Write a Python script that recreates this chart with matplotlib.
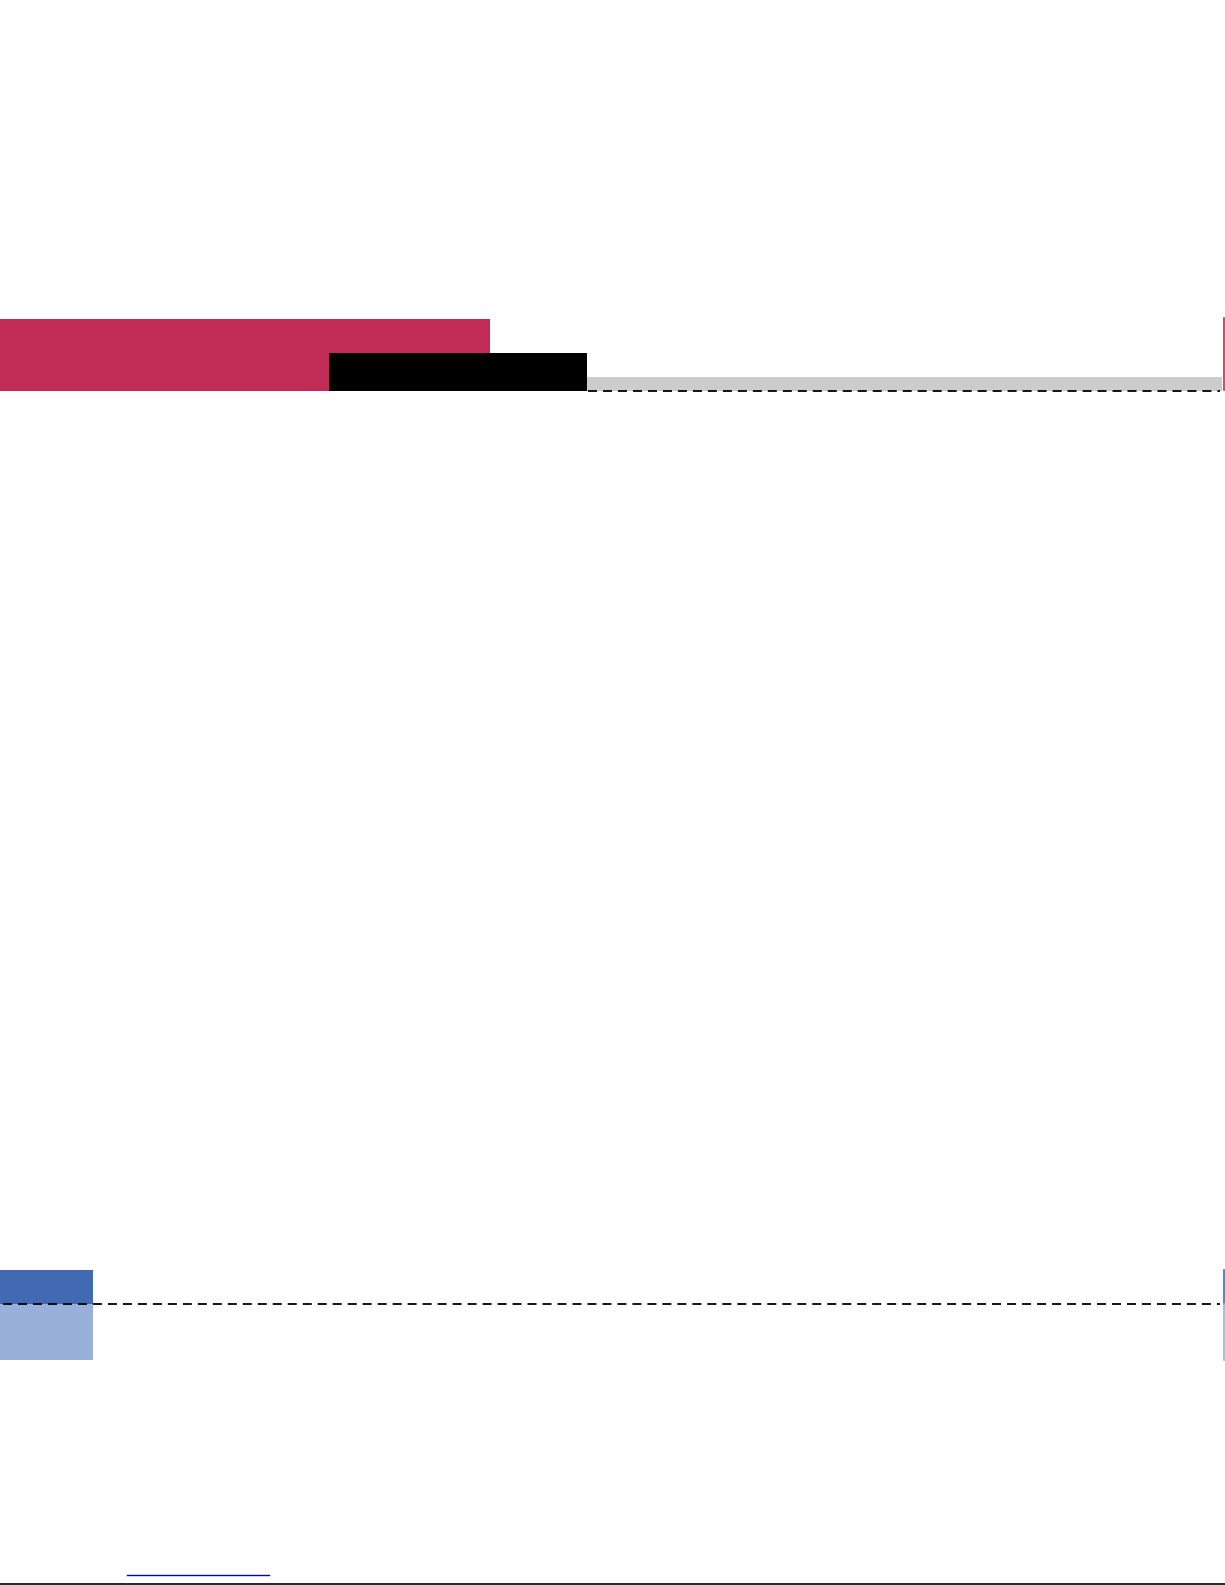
import matplotlib
matplotlib.use("Agg")
import matplotlib.pyplot as plt

W, H = 1225, 1585

# header blocks: (left, right, top, bottom, colour)
header_left   = [0,   329, 587]
header_right  = [490, 587, 1222]
header_top    = [319, 353, 377]
header_bottom = [391, 391, 391]
header_colors = ["#C12C57", "#000000", "#CCCCCC"]

# footer tab blocks
tab_left   = [0, 0]
tab_right  = [93, 93]
tab_top    = [1270, 1304]
tab_bottom = [1304, 1360]
tab_colors = ["#426AB2", "#99B1D9"]

fig = plt.figure(figsize=(W / 100, H / 100), dpi=100)
ax = fig.add_axes([0, 0, 1, 1])
ax.set_xlim(0, W)
ax.set_ylim(H, 0)
ax.axis("off")

ax.barh([(t + b) / 2 for t, b in zip(header_top, header_bottom)],
        [r - l for l, r in zip(header_left, header_right)],
        height=[b - t for t, b in zip(header_top, header_bottom)],
        left=header_left, color=header_colors, linewidth=0)

ax.barh([(t + b) / 2 for t, b in zip(tab_top, tab_bottom)],
        [r - l for l, r in zip(tab_left, tab_right)],
        height=[b - t for t, b in zip(tab_top, tab_bottom)],
        left=tab_left, color=tab_colors, linewidth=0)

# dashed rules
ax.plot([588, 1220], [391, 391], color="black", lw=1.3, dashes=(5, 3.3))
ax.plot([3, 1220], [1304, 1304], color="black", lw=1.3, dashes=(5, 3.3))

# right edge ticks
ax.plot([1224, 1224], [318, 390], color="#C12C57", lw=1.2)
ax.plot([1224, 1224], [1270, 1304], color="#426AB2", lw=1.2)
ax.plot([1224, 1224], [1304, 1360], color="#99B1D9", lw=1.2)

# bottom link underline and page rule
ax.plot([127, 269], [1575, 1575], color="#0000CC", lw=1.0)
ax.plot([0, W], [1584, 1584], color="black", lw=1.2)

fig.savefig("out.png", dpi=100)
